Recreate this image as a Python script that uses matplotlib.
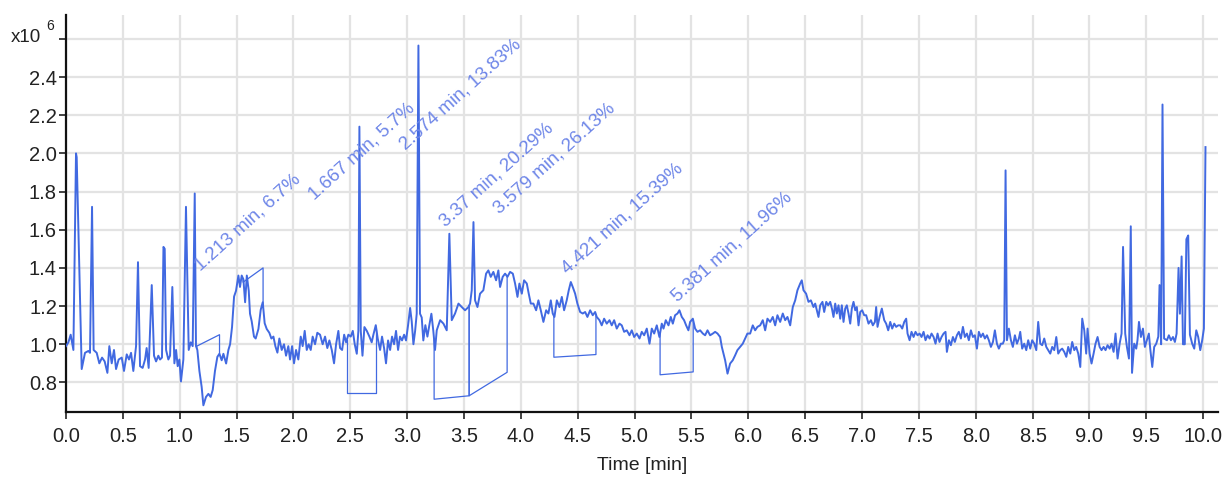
import matplotlib
matplotlib.use("Agg")
import matplotlib.pyplot as plt
import numpy as np

# --- trace: time [min], intensity [x10^6] ---
t_a = [0.0, 0.021, 0.041, 0.065, 0.088, 0.094, 0.138, 0.167, 0.197, 0.211, 0.229, 0.243,
       0.27, 0.293, 0.317, 0.34, 0.364, 0.381, 0.402, 0.422, 0.44, 0.463, 0.49, 0.51,
       0.534, 0.554, 0.572, 0.592, 0.616, 0.633, 0.651, 0.674, 0.695, 0.709, 0.727, 0.754,
       0.774, 0.792, 0.812, 0.827, 0.844, 0.857, 0.868, 0.88, 0.9, 0.915, 0.935, 0.953,
       0.968, 0.982, 0.997, 1.011, 1.032, 1.055, 1.079, 1.097, 1.114, 1.132]
v_a = [0.99, 1.01, 1.05, 0.97, 2.0, 1.98, 0.87, 0.955, 0.965, 0.955, 1.72, 0.97,
       0.955, 0.90, 0.93, 0.91, 0.85, 0.99, 0.90, 0.97, 0.87, 0.92, 0.93, 0.86,
       0.947, 0.92, 0.955, 0.86, 0.99, 1.43, 0.885, 0.876, 0.92, 0.98, 0.876, 1.31,
       0.94, 0.91, 0.94, 0.92, 0.93, 1.51, 1.50, 0.97, 0.92, 0.94, 1.30, 0.90,
       0.97, 0.885, 0.92, 0.805, 0.92, 1.72, 0.97, 1.01, 0.99, 1.79]

t_b = [1.143, 1.155, 1.173, 1.193, 1.208, 1.231, 1.252, 1.272, 1.29, 1.31, 1.331, 1.349,
       1.369, 1.384, 1.408, 1.428, 1.443, 1.46, 1.478, 1.495, 1.516, 1.53, 1.545, 1.56,
       1.575, 1.59, 1.607, 1.618, 1.633, 1.653, 1.668, 1.692, 1.712, 1.73, 1.747, 1.765,
       1.788, 1.806, 1.824, 1.841, 1.859, 1.876, 1.897, 1.917, 1.935, 1.955, 1.97, 1.988,
       2.005, 2.023, 2.043, 2.064, 2.081, 2.099, 2.117, 2.134, 2.152, 2.169, 2.19, 2.21]
v_b = [0.99, 0.97, 0.86, 0.776, 0.68, 0.724, 0.74, 0.724, 0.76, 0.86, 0.934, 0.95,
       0.916, 0.95, 0.899, 0.97, 1.0, 1.09, 1.25, 1.28, 1.36, 1.30, 1.36, 1.34,
       1.22, 1.36, 1.28, 1.16, 1.12, 1.04, 1.03, 1.08, 1.18, 1.22, 1.11, 1.08,
       1.06, 1.03, 1.04, 0.99, 0.956, 1.03, 0.97, 1.0, 0.94, 0.99, 0.92, 0.99,
       0.90, 0.97, 0.92, 1.04, 0.99, 1.07, 0.97, 1.0, 0.97, 1.04, 1.0, 1.06]

t_c = [2.234, 2.257, 2.278, 2.298, 2.316, 2.337, 2.357, 2.375, 2.395, 2.41, 2.428, 2.446,
       2.463, 2.483, 2.504, 2.522, 2.539, 2.557, 2.571, 2.58, 2.592, 2.607, 2.624, 2.645,
       2.668, 2.688, 2.703, 2.724, 2.741, 2.762, 2.779, 2.797, 2.814, 2.832, 2.85, 2.867,
       2.885, 2.902, 2.92, 2.937, 2.955, 2.973, 2.99, 3.008, 3.026, 3.04, 3.055, 3.07,
       3.084, 3.099, 3.113, 3.128, 3.142, 3.16, 3.178, 3.195, 3.213, 3.23, 3.245]
v_c = [1.05, 1.0, 1.04, 0.98, 1.02, 0.97, 0.90, 1.0, 1.07, 0.98, 0.97, 1.05,
       1.01, 1.05, 1.04, 1.07, 1.0, 0.95, 1.07, 2.14, 1.07, 0.94, 1.09, 1.07,
       1.04, 1.01, 1.05, 1.10, 1.03, 0.97, 1.04, 0.98, 0.90, 1.02, 0.97, 1.04,
       1.0, 1.07, 0.97, 1.04, 1.02, 1.05, 1.02, 1.10, 1.19, 1.12, 1.0, 1.07,
       1.16, 2.565, 1.16, 1.14, 1.02, 1.10, 1.04, 1.10, 1.16, 1.07, 0.97]

t_d = [3.26, 3.29, 3.319, 3.348, 3.371, 3.392, 3.421, 3.451, 3.48, 3.509, 3.539, 3.553,
       3.568, 3.583, 3.597, 3.618, 3.641, 3.67, 3.694, 3.714, 3.735, 3.758, 3.782, 3.802,
       3.817, 3.84, 3.861, 3.882, 3.905, 3.929, 3.949, 3.97, 3.987, 4.008, 4.028, 4.052,
       4.069, 4.087, 4.11, 4.134, 4.154, 4.175, 4.198, 4.222, 4.242, 4.263, 4.28, 4.295,
       4.316, 4.339, 4.36, 4.38, 4.403, 4.421, 4.439, 4.456, 4.477, 4.497, 4.521, 4.544,
       4.565, 4.585, 4.609, 4.632, 4.653, 4.667, 4.691, 4.711, 4.732, 4.755, 4.779, 4.799,
       4.82, 4.843, 4.867, 4.887, 4.908, 4.931, 4.955, 4.975, 4.996, 5.019, 5.043, 5.063,
       5.084, 5.107, 5.131, 5.151, 5.172, 5.195, 5.218, 5.239, 5.254, 5.274, 5.298, 5.318,
       5.336, 5.356, 5.377, 5.394, 5.415, 5.435, 5.453, 5.473, 5.488, 5.512, 5.532, 5.553,
       5.576, 5.6, 5.62, 5.641, 5.664, 5.688, 5.708, 5.729, 5.752, 5.767, 5.781, 5.796,
       5.817, 5.84, 5.863, 5.884, 5.904, 5.928, 5.951, 5.972, 5.992, 6.016, 6.039, 6.06,
       6.08, 6.104, 6.127, 6.148, 6.168, 6.192, 6.215, 6.236, 6.256, 6.28, 6.303, 6.324,
       6.344, 6.368, 6.391, 6.412, 6.432, 6.456, 6.47, 6.485, 6.508]
v_d = [1.073, 1.126, 1.108, 1.073, 1.579, 1.126, 1.161, 1.213, 1.195, 1.178, 1.195, 1.213,
       1.283, 1.64, 1.23, 1.195, 1.265, 1.283, 1.37, 1.387, 1.353, 1.379, 1.335, 1.387,
       1.30, 1.353, 1.37, 1.353, 1.379, 1.37, 1.318, 1.248, 1.318, 1.265, 1.335, 1.318,
       1.265, 1.213, 1.213, 1.178, 1.23, 1.178, 1.117, 1.178, 1.161, 1.23, 1.161, 1.143,
       1.23, 1.195, 1.248, 1.178, 1.23, 1.283, 1.326, 1.30, 1.265, 1.213, 1.169, 1.161,
       1.169, 1.143, 1.178, 1.152, 1.169, 1.143, 1.126, 1.099, 1.134, 1.108, 1.126, 1.099,
       1.126, 1.082, 1.108, 1.099, 1.065, 1.073, 1.047, 1.073, 1.038, 1.056, 1.03, 1.065,
       1.047, 1.082, 1.003, 1.082, 1.056, 1.099, 1.038, 1.108, 1.082, 1.126, 1.099, 1.143,
       1.108, 1.152, 1.161, 1.178, 1.143, 1.126, 1.099, 1.073, 1.117, 1.134, 1.082, 1.065,
       1.073, 1.056, 1.047, 1.073, 1.047, 1.056, 1.065, 1.056, 1.038, 0.986, 0.951, 0.916,
       0.846, 0.899, 0.916, 0.942, 0.969, 0.986, 1.003, 1.03, 1.056, 1.056, 1.099, 1.073,
       1.091, 1.099, 1.126, 1.073, 1.134, 1.117, 1.143, 1.099, 1.152, 1.117, 1.161, 1.126,
       1.143, 1.099, 1.195, 1.23, 1.283, 1.318, 1.335, 1.283, 1.265]

t_e = [6.529, 6.55, 6.573, 6.588, 6.603, 6.617, 6.632, 6.652, 6.667, 6.685, 6.702, 6.72,
       6.735, 6.749, 6.764, 6.778, 6.793, 6.808, 6.822, 6.837, 6.852, 6.866, 6.881, 6.896,
       6.91, 6.925, 6.94, 6.954, 6.969, 6.984, 7.001, 7.019, 7.036, 7.057, 7.078, 7.095,
       7.113, 7.124, 7.136, 7.154, 7.174, 7.195, 7.212, 7.23, 7.248, 7.265, 7.283, 7.3,
       7.318, 7.336, 7.353, 7.371, 7.388, 7.4, 7.418, 7.435, 7.453, 7.47, 7.488, 7.506,
       7.523, 7.541, 7.558, 7.576, 7.594, 7.611, 7.629, 7.646, 7.664, 7.681, 7.699, 7.717,
       7.734, 7.746, 7.764, 7.781, 7.799, 7.816, 7.834, 7.851, 7.869, 7.887, 7.904, 7.922,
       7.939, 7.957, 7.975, 7.992, 8.01, 8.027, 8.045, 8.063, 8.08, 8.098, 8.115, 8.133,
       8.151, 8.168, 8.186, 8.203, 8.221, 8.238, 8.25, 8.262, 8.274, 8.291, 8.309, 8.326,
       8.344, 8.362, 8.379, 8.391, 8.408, 8.426, 8.444, 8.461, 8.479, 8.496, 8.514, 8.532,
       8.549, 8.567, 8.584, 8.602, 8.62, 8.637, 8.655, 8.672, 8.69, 8.708, 8.725, 8.743,
       8.76, 8.778, 8.796, 8.813, 8.831, 8.848, 8.866, 8.883, 8.901, 8.919, 8.936, 8.954,
       8.971, 8.983, 9.001, 9.018, 9.036, 9.053, 9.071, 9.089, 9.106, 9.124, 9.141, 9.159,
       9.177, 9.194, 9.212, 9.229, 9.247, 9.265, 9.282, 9.295, 9.314, 9.329, 9.347, 9.363,
       9.374, 9.393, 9.411, 9.422, 9.435, 9.452, 9.47, 9.487, 9.505, 9.522, 9.534, 9.552,
       9.569, 9.587, 9.605, 9.616, 9.63, 9.642, 9.656, 9.681, 9.698, 9.716, 9.734, 9.751,
       9.766, 9.783, 9.795, 9.81, 9.822, 9.838, 9.852, 9.868, 9.883, 9.903, 9.921, 9.939,
       9.956, 9.974, 9.991, 10.006, 10.02]
v_e = [1.222, 1.23, 1.195, 1.213, 1.178, 1.143, 1.204, 1.222, 1.169, 1.222, 1.204, 1.222,
       1.187, 1.143, 1.213, 1.161, 1.204, 1.134, 1.204, 1.117, 1.187, 1.204, 1.161, 1.108,
       1.187, 1.222, 1.178, 1.195, 1.099, 1.169, 1.178, 1.152, 1.152, 1.108, 1.126, 1.099,
       1.117, 1.195, 1.091, 1.143, 1.187, 1.126, 1.108, 1.073, 1.117, 1.082, 1.108, 1.091,
       1.099, 1.099, 1.082, 1.117, 1.134, 1.056, 1.021, 1.065, 1.038, 1.065, 1.047, 1.056,
       1.038, 1.065, 1.021, 1.047, 1.03, 1.056, 1.038, 1.003, 1.056, 1.012, 1.038, 1.056,
       1.065, 0.96, 1.021, 0.995, 1.038, 1.012, 1.047, 1.065, 1.03, 1.091, 1.038, 1.056,
       1.021, 1.073, 1.038, 1.047, 0.977, 1.065, 1.038, 1.056, 1.03, 1.047, 1.021, 0.986,
       1.012, 1.073, 1.003, 0.977, 1.003, 1.003, 1.021, 1.911, 1.021, 1.082, 1.021, 0.986,
       1.047, 1.003, 1.03, 1.065, 0.977, 1.003, 0.969, 1.021, 0.977, 1.021, 1.003, 0.969,
       1.117, 1.003, 0.995, 1.03, 0.986, 0.969, 0.951, 0.986, 0.969, 1.038, 0.951, 0.969,
       0.977, 0.96, 0.934, 0.986, 0.951, 1.012, 0.969, 0.986, 0.951, 0.881, 1.134, 1.073,
       0.951, 1.082, 0.951, 0.899, 0.951, 1.003, 1.038, 0.986, 0.969, 0.986, 0.969, 0.995,
       0.977, 1.003, 0.96, 1.056, 0.925, 1.003, 1.056, 1.51, 1.056, 0.986, 0.925, 1.618,
       0.85, 1.003, 0.977, 1.021, 1.117, 1.038, 1.082, 0.986, 1.021, 1.056, 0.977, 0.881,
       0.986, 1.003, 1.04, 1.31, 1.0, 2.256, 1.03, 1.021, 1.047, 1.021, 1.038, 1.012,
       1.056, 1.40, 1.16, 1.46, 1.0, 1.0, 1.55, 1.57, 1.05, 1.003, 0.977, 1.073,
       1.038, 0.969, 1.021, 1.082, 2.033]

# --- integrated peaks ---
peak_rt = [1.213, 1.667, 2.574, 3.37, 3.579, 4.421, 5.381]
peak_pct = ["6.7", "5.7", "13.83", "20.29", "26.13", "15.39", "11.96"]
label_t = [1.208, 2.205, 3.01, 3.36, 3.835, 4.43, 5.40]
label_v = [1.37, 1.737, 2.0, 1.60, 1.665, 1.35, 1.204]
base_t0 = [1.15, 1.557, 2.47, 3.237, 3.545, 4.29, 5.224]
base_v0 = [0.99, 1.325, 0.743, 0.712, 0.73, 0.932, 0.84]
base_t1 = [1.35, 1.733, 2.73, 3.545, 3.879, 4.66, 5.515]
base_v1 = [1.05, 1.40, 0.743, 0.73, 0.853, 0.946, 0.855]

x_ticks = np.arange(0, 10.01, 0.5)
y_ticks = [0.8, 1.0, 1.2, 1.4, 1.6, 1.8, 2.0, 2.2, 2.4, 2.6]

t = np.array(t_a + t_b + t_c + t_d + t_e)
v = np.array(v_a + v_b + v_c + v_d + v_e)

plt.rcParams["font.family"] = ["Liberation Sans", "DejaVu Sans"]

blue = "#4169e1"
lab_blue = "#6e86e8"
dark = "#222222"

fig = plt.figure(figsize=(12.22, 4.86), dpi=100)
ax = fig.add_axes([66 / 1222, 1 - 412 / 486, 1152 / 1222, 397 / 486])

ax.plot(t, v, color=blue, lw=1.4, zorder=3)

# baselines of the integrated peaks
for i in range(len(peak_rt)):
    y0 = np.interp(base_t0[i], t, v)
    y1 = np.interp(base_t1[i], t, v)
    ax.plot([base_t0[i], base_t0[i], base_t1[i], base_t1[i]],
            [y0, base_v0[i], base_v1[i], y1], color=blue, lw=0.9, zorder=2)
    ax.text(label_t[i], label_v[i], f"{peak_rt[i]} min, {peak_pct[i]}%",
            rotation=42, rotation_mode="anchor", ha="left", va="bottom",
            fontsize=13.5, color=lab_blue, zorder=4)

ax.set_xlim(0, 10.13)
ax.set_ylim(0.645, 2.725)
ax.set_xticks(x_ticks)
ax.set_xticklabels([f"{x:.1f}" for x in x_ticks])
ax.set_yticks(y_ticks)
ax.set_yticklabels([f"{y:.1f}" for y in y_ticks[:-1]] + [""])
ax.grid(True, color="#e3e3e3", lw=1.6, zorder=0)
ax.set_axisbelow(True)
for s in ["top", "right"]:
    ax.spines[s].set_visible(False)
for s in ["left", "bottom"]:
    ax.spines[s].set_linewidth(1.6)
    ax.spines[s].set_color("#111111")
ax.tick_params(axis="x", length=5, width=1.2, pad=6, labelsize=14.5, colors=dark)
ax.tick_params(axis="y", length=5, width=1.2, pad=1.5, labelsize=14.5, colors=dark)
ax.set_xlabel("Time [min]", fontsize=14, color=dark, labelpad=8)

fig.text(11 / 1222, 1 - 42 / 486, "x10", fontsize=13.5, color=dark, va="baseline")
fig.text(46 / 1222, 1 - 30 / 486, "6", fontsize=10, color=dark, va="baseline")

fig.savefig("out.png", dpi=100)
